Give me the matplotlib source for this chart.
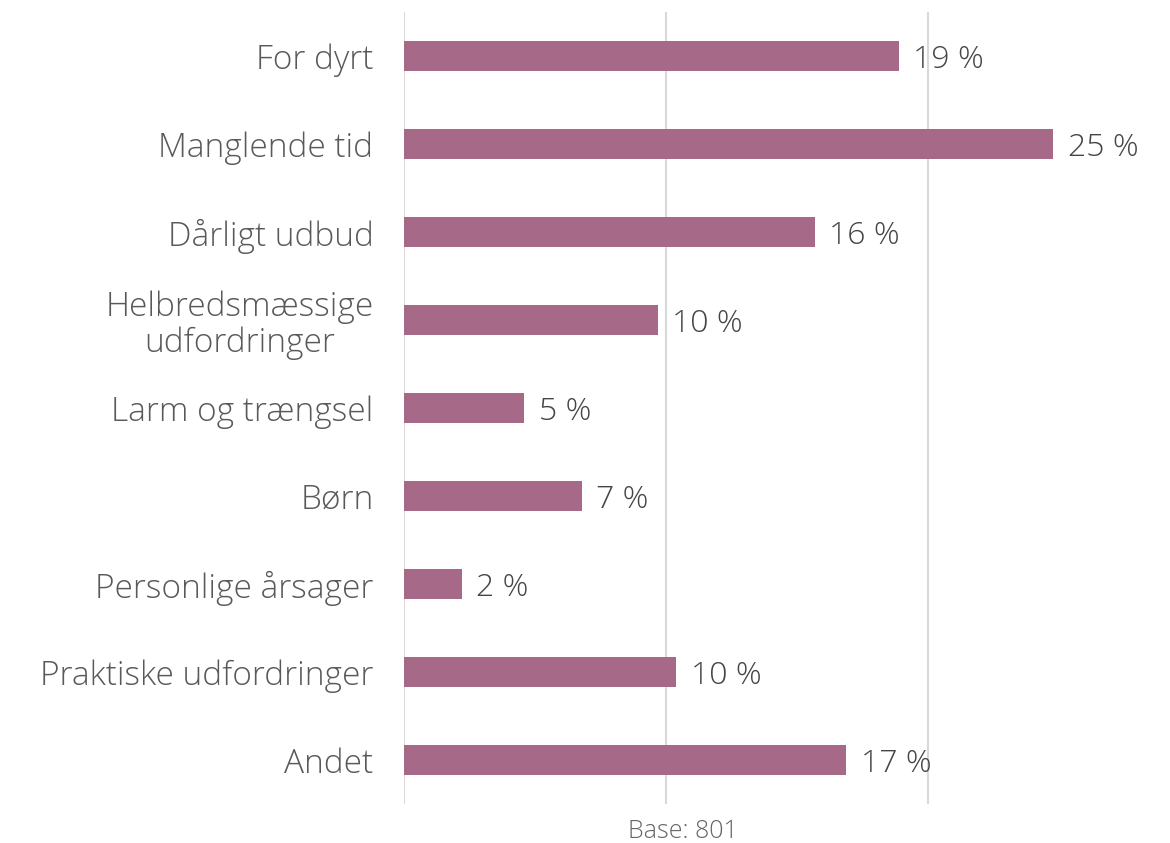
import matplotlib
matplotlib.use("Agg")
import matplotlib.pyplot as plt

categories = [
    "For dyrt",
    "Manglende tid",
    "Dårligt udbud",
    "Helbredsmæssige\nudfordringer",
    "Larm og trængsel",
    "Børn",
    "Personlige årsager",
    "Praktiske udfordringer",
    "Andet",
]
shares = [18.9, 24.8, 15.7, 9.7, 4.6, 6.8, 2.2, 10.4, 16.9]
base_n = 801

bar_color = "#a66a88"
plt.rcParams["font.family"] = ["Open Sans", "DejaVu Sans"]

fig = plt.figure(figsize=(11.7, 8.43), dpi=100)
ax = fig.add_axes([404 / 1170, 39 / 843, (1150 - 404) / 1170, 792 / 843])

y = list(range(len(categories)))
ax.barh(y, shares, height=0.35, color=bar_color, zorder=3)
for yi, v in zip(y, shares):
    ax.text(v + 0.55, yi, f"{round(v)} %", va="center_baseline", ha="left",
            fontsize=23, fontweight="light", color="#454545")

ax.set_xlim(0, 28.5)
ax.set_ylim(len(categories) - 0.5, -0.5)
ax.set_xticks([0, 10, 20])
ax.set_xticklabels([])
ax.grid(axis="x", color="#d9d9d9", linewidth=1.5, zorder=0)
ax.tick_params(length=0, pad=22)
ax.set_yticks(y)
ax.set_yticklabels(categories, fontsize=24, fontweight="light",
                   color="#595959", multialignment="center",
                   linespacing=1.1)
for s in ax.spines.values():
    s.set_visible(False)

fig.text(683 / 1170, 11 / 843, f"Base: {base_n}", ha="center", va="center",
         fontsize=18, fontweight="light", color="#666666")

fig.savefig("out.png", dpi=100)
plt.close(fig)
